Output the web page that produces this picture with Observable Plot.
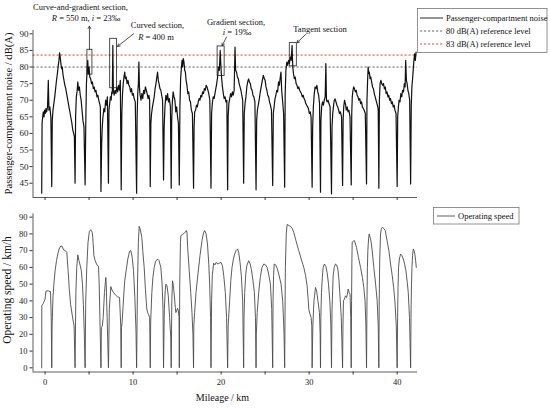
<!DOCTYPE html>
<html><head><meta charset="utf-8">
<script src="https://cdn.jsdelivr.net/npm/d3@7"></script>
<script src="https://cdn.jsdelivr.net/npm/@observablehq/plot@0.6"></script>
<style>
body{margin:0;background:#fff;}
#wrap{position:relative;width:550px;height:408px;overflow:hidden;font-family:"Liberation Serif","Times New Roman",serif;}
#topc{position:absolute;left:0;top:0;}
#botc{position:absolute;left:0;top:205px;}
#overlay{position:absolute;left:0;top:0;pointer-events:none;}
svg{display:block;}
</style>
</head><body>
<div id="wrap">
  <div id="topc"></div>
  <div id="botc"></div>
  <svg id="overlay" width="550" height="408" font-family="Liberation Serif, Times New Roman, serif" fill="#111"></svg>
</div>
<script>
// ---------- data ----------
const kmTicks = [0,5,10,15,20,25,30,35,40];
const noiseTicks = [45,50,55,60,65,70,75,80,85,90];
const speedTicks = [0,10,20,30,40,50,60,70,80,90];
const refGrey = 80;     // drawn level, dB(A)
const refRed = 83.6;    // drawn level, dB(A)
const legendTop = ["Passenger-compartment noise","80 dB(A) reference level","83 dB(A) reference level"];
const legendBottom = ["Operating speed"];

// passenger-compartment noise [km, dB(A)]
const noise = [
[-0.38,42],[-0.34,63],[-0.27,65],[-0.2,66.5],[-0.12,65],[-0.05,67],[0.03,66],[0.1,67.5],[0.18,66.5],[0.28,68],[0.37,76],[0.44,67],[0.54,68],[0.66,65],[0.76,44],
[0.82,64],[0.9,67],[1.0,69],[1.1,71],[1.2,73.5],[1.3,76],[1.4,78],[1.5,80.5],[1.58,82],[1.65,84.3],[1.72,83],[1.8,81],[1.88,79.5],[1.95,80],[2.05,77.5],[2.15,76],[2.25,74.5],[2.35,73.5],[2.45,72],[2.55,70.5],[2.65,69],[2.75,67.5],[2.85,66],[2.95,64.5],[3.05,63],[3.15,61],[3.25,60],[3.33,59],[3.41,45],
[3.47,65],[3.55,71],[3.63,72.5],[3.72,75.5],[3.8,73],[3.9,74],[4.0,71.5],[4.1,70],[4.2,67],[4.3,64],[4.42,62],[4.55,44.5],
[4.62,62],[4.7,75],[4.78,79],[4.85,82],[4.92,78],[5.0,80],[5.08,77],[5.18,76.5],[5.28,75],[5.38,75.5],[5.48,73.5],[5.58,74],[5.68,72.5],[5.78,73],[5.9,71],[6.0,71.5],[6.1,70],[6.2,69],[6.28,68],[6.35,42.5],
[6.43,57],[6.5,62],[6.58,65],[6.68,67.5],[6.78,66.5],[6.88,70],[6.98,68.5],[7.08,71],[7.2,45],
[7.26,67],[7.34,69],[7.42,71],[7.5,70],[7.58,72.5],[7.64,72],[7.7,86.5],[7.76,73],[7.85,71.5],[7.95,73],[8.05,72],[8.15,74],[8.25,72.5],[8.35,74.5],[8.45,73],[8.55,76],[8.65,43],
[8.72,66],[8.8,72],[8.88,75],[8.96,77],[9.05,78.5],[9.12,76.5],[9.22,77],[9.32,75],[9.42,76],[9.52,74.5],[9.62,74],[9.72,72.5],[9.82,73.5],[9.92,71.5],[10.02,72],[10.12,70.5],[10.25,69.5],[10.4,42],
[10.46,65],[10.53,72],[10.6,75],[10.66,81.5],[10.72,74],[10.8,71.5],[10.9,70],[11.0,72],[11.1,70.5],[11.2,73],[11.3,72],[11.4,74],[11.5,73],[11.6,72],[11.7,70.5],[11.8,71.5],[11.88,70],[11.95,44],
[12.02,63],[12.1,66],[12.2,68],[12.3,69.5],[12.4,71],[12.5,73.5],[12.6,75],[12.7,77],[12.78,78.5],[12.86,76],[12.95,75],[13.05,73.5],[13.15,73],[13.25,71.5],[13.35,70],[13.46,46],
[13.53,62],[13.62,68],[13.72,71.5],[13.82,70],[13.92,72],[14.02,69.5],[14.12,70.5],[14.24,68],[14.33,43.5],
[14.39,64],[14.46,69.5],[14.55,72.5],[14.65,71],[14.75,70],[14.85,66.5],[14.95,68],[15.05,65],[15.15,63],[15.25,44.5],
[15.32,68],[15.4,76.5],[15.48,79.5],[15.56,82],[15.62,80],[15.7,82.5],[15.78,81.5],[15.86,79],[15.94,78.5],[16.02,76],[16.12,74.5],[16.22,72],[16.32,72.5],[16.42,70],[16.52,69.5],[16.62,67],[16.74,66],[16.87,43.5],
[16.93,62],[17.0,66.5],[17.1,67],[17.2,68.5],[17.3,68],[17.4,69.5],[17.5,70.5],[17.6,70],[17.7,71.5],[17.8,71],[17.9,72.5],[18.0,72],[18.1,73.5],[18.2,73],[18.3,74.5],[18.4,74],[18.5,73],[18.6,72],[18.72,70],[18.85,43.5],
[18.92,66],[19.0,69],[19.1,71],[19.2,70.5],[19.3,72],[19.4,73.5],[19.5,75],[19.6,77],[19.7,80],[19.8,79],[19.9,85],[19.98,80],[20.05,77],[20.15,74],[20.25,72],[20.35,70.5],[20.45,71],[20.55,69.5],[20.65,70],[20.74,43],
[20.8,65],[20.88,69],[20.98,70.5],[21.08,72],[21.18,71],[21.28,72.5],[21.38,71.5],[21.48,73],[21.58,86],[21.65,79],[21.75,78.5],[21.85,77],[21.95,76.5],[22.05,75],[22.15,74],[22.25,73],[22.35,71.5],[22.45,70],[22.56,45],
[22.63,66],[22.72,69],[22.82,71],[22.92,74],[23.02,75.5],[23.12,76.4],[23.22,75.5],[23.32,75],[23.42,73.5],[23.52,73],[23.62,71.5],[23.72,71],[23.84,69.5],[23.97,43],
[24.04,64],[24.12,67],[24.22,68.5],[24.32,70],[24.42,72],[24.52,73.5],[24.62,75],[24.72,76.5],[24.8,77.5],[24.9,76.5],[25.0,76],[25.1,74],[25.2,73],[25.3,71.5],[25.4,71],[25.5,69.5],[25.6,68.5],[25.72,67],[25.86,44.3],
[25.93,66],[26.02,68],[26.12,70.5],[26.22,71.5],[26.32,73],[26.42,72.5],[26.52,75.5],[26.62,74.5],[26.72,77],[26.8,78.5],[26.88,73],[26.98,70],[27.1,66],[27.22,43.8],
[27.28,72],[27.36,79],[27.46,81.5],[27.56,80.5],[27.66,82],[27.76,81],[27.86,83],[27.96,82],[28.06,86.5],[28.14,80],[28.22,78],[28.32,76.5],[28.42,77],[28.52,75],[28.62,74.5],[28.72,73.5],[28.82,74],[28.92,73],[29.02,72.5],[29.12,72],[29.22,71],[29.32,71.5],[29.42,70.5],[29.52,70],[29.62,69],[29.72,68.5],[29.82,68],[29.92,67.5],[30.02,66],[30.12,66.5],[30.22,65],[30.34,43.8],
[30.4,62],[30.48,68],[30.58,72],[30.68,74],[30.78,73.5],[30.88,74.5],[30.98,72.5],[31.08,71.5],[31.18,69],[31.29,42.3],
[31.34,64],[31.42,68],[31.52,69.5],[31.62,68.5],[31.72,70],[31.82,71],[31.9,81],[31.97,70],[32.05,69.5],[32.15,70],[32.25,69],[32.38,68],[32.54,41.8],
[32.6,62],[32.68,66],[32.76,68],[32.85,70],[32.95,70.4],[33.05,69.5],[33.15,68.5],[33.25,68],[33.35,67],[33.45,66],[33.55,66.5],[33.68,65],[33.8,44.3],
[33.86,64],[33.93,68],[34.02,70],[34.12,69],[34.22,67],[34.32,68],[34.42,66.5],[34.52,67],[34.64,65],[34.78,44.5],
[34.84,66],[34.9,71],[34.98,73],[35.06,74],[35.15,73.5],[35.25,72.5],[35.35,73],[35.45,71.5],[35.55,71],[35.65,70],[35.75,70.5],[35.85,69],[35.95,69.5],[36.05,68],[36.15,67.5],[36.25,67],[36.38,66],[36.52,44.8],
[36.57,70],[36.63,75],[36.7,80],[36.77,78],[36.84,78.5],[36.92,76.5],[37.0,77],[37.1,75.5],[37.2,74],[37.3,73.5],[37.4,72],[37.5,71],[37.6,70],[37.7,69],[37.8,68],[37.85,67],[37.92,43.5],
[37.98,70],[38.06,75],[38.15,76],[38.25,75],[38.35,74.5],[38.45,75],[38.55,73.4],[38.65,74],[38.75,72],[38.85,72.5],[38.95,71],[39.05,71.5],[39.15,70],[39.25,70.5],[39.35,69],[39.45,69.5],[39.55,68],[39.65,68.5],[39.75,67],[39.87,66],[40.0,44],
[40.06,65],[40.14,68],[40.22,70],[40.32,69.5],[40.42,72],[40.52,71],[40.62,73],[40.72,72.5],[40.82,75],[40.9,74],[40.97,82],[41.05,76],[41.13,75],[41.22,73],[41.32,72],[41.42,70],[41.53,44.8],
[41.6,68],[41.67,74],[41.74,76],[41.82,79],[41.9,82],[41.98,84],[42.06,82],[42.15,84.5]
];

// operating speed [km, km/h]
const speed = [
[-0.38,0],[-0.37,37],[-0.2,38.5],[0.0,41],[0.1,45.8],[0.35,46],[0.62,45.5],[0.7,30],[0.76,0],
[0.8,25],[0.9,42],[1.0,50],[1.14,58],[1.3,64],[1.45,68],[1.6,71],[1.8,72.8],[1.95,72.5],[2.1,70.5],[2.3,70],[2.47,69],[2.62,58],[2.75,47],[2.9,38],[3.1,31],[3.3,25],[3.41,0],
[3.5,45],[3.6,60],[3.72,67.5],[3.85,64],[4.0,61],[4.12,58],[4.25,50],[4.35,38],[4.45,22],[4.55,0],
[4.62,40],[4.74,60],[4.88,75],[5.04,81.6],[5.2,82.5],[5.35,81],[5.42,78],[5.55,67],[5.69,64],[5.85,62],[6.07,60.5],[6.15,50],[6.25,25],[6.35,0],
[6.4,24],[6.5,25],[6.6,30],[6.75,45],[6.9,54],[6.95,50],[7.05,30],[7.2,0],
[7.3,35],[7.47,48.5],[7.6,46.5],[7.77,45],[8.0,43.5],[8.23,42.5],[8.46,42],[8.6,25],[8.65,0],
[8.68,24],[8.75,27],[8.9,40],[9.05,52],[9.21,58],[9.4,65],[9.6,69.5],[9.75,70],[9.9,66],[10.05,58],[10.2,42],[10.33,22],[10.4,0],
[10.5,50],[10.6,75],[10.69,84.5],[10.8,83],[10.99,78],[11.1,70],[11.26,60],[11.4,47],[11.56,35],[11.65,33],[11.75,32],[11.88,30],[11.95,0],
[12.0,28],[12.13,45],[12.25,54],[12.4,60],[12.55,63.5],[12.78,65],[12.95,64],[13.15,60],[13.3,50],[13.4,35],[13.46,0],
[13.55,35],[13.65,46],[13.73,50],[13.85,49],[14.0,43],[14.15,30],[14.28,18],[14.33,0],
[14.4,40],[14.48,52],[14.58,49],[14.67,44],[14.8,36],[14.86,33],[14.95,34],[15.05,35.5],[15.15,34],[15.22,30],[15.25,0],
[15.3,50],[15.38,75],[15.43,79],[15.6,79.5],[15.81,80.5],[15.95,81],[16.05,82],[16.12,81],[16.2,72],[16.38,58],[16.55,45],[16.69,33],[16.8,20],[16.87,0],
[16.9,25],[16.99,33],[17.15,45],[17.37,56],[17.6,67],[17.83,76],[18.0,80.5],[18.13,82],[18.3,80],[18.45,74],[18.6,62],[18.7,50],[18.8,30],[18.85,0],
[18.92,40],[19.0,55],[19.15,62.5],[19.3,61.5],[19.45,63],[19.61,62],[19.8,62.5],[19.99,63],[20.15,61],[20.3,55],[20.48,45],[20.62,30],[20.74,0],
[20.8,25],[20.97,40],[21.1,52],[21.24,60],[21.4,65],[21.54,68],[21.7,70],[21.88,71],[22.0,69],[22.15,63],[22.3,55],[22.45,40],[22.56,0],
[22.6,30],[22.68,45],[22.8,56],[22.92,61],[23.13,64],[23.3,62],[23.45,58.5],[23.62,52],[23.78,45],[23.9,30],[23.97,0],
[24.0,20],[24.1,33],[24.27,45],[24.45,54],[24.65,60],[24.85,62],[25.05,61.5],[25.22,60],[25.4,56],[25.6,50],[25.75,35],[25.86,0],
[25.9,40],[25.96,55],[26.03,62],[26.2,61.5],[26.36,59.5],[26.55,56],[26.81,50],[27.0,40],[27.15,20],[27.22,0],
[27.3,60],[27.4,80],[27.5,85.6],[27.7,85],[27.87,84.5],[28.05,83.5],[28.25,81],[28.5,76],[28.82,70],[29.1,65],[29.39,60],[29.6,55],[29.77,49],[29.9,40],[29.96,35],[30.1,32],[30.23,30],[30.3,25],[30.34,0],
[30.42,25],[30.55,40],[30.72,48],[30.85,46],[31.0,40],[31.17,33],[31.25,20],[31.29,0],
[31.33,30],[31.4,45],[31.5,54],[31.59,60],[31.74,62],[31.9,60.5],[32.04,57],[32.2,50],[32.35,40],[32.47,25],[32.54,0],
[32.6,35],[32.73,55],[32.85,60],[32.99,62],[33.12,61.5],[33.26,59],[33.38,53],[33.48,45],[33.65,30],[33.8,0],
[33.84,25],[33.9,40],[34.0,41],[34.13,43],[34.25,42],[34.35,44],[34.43,47],[34.55,45],[34.65,44],[34.72,30],[34.78,0],
[34.82,40],[34.86,65],[34.89,75],[35.0,75.5],[35.15,76],[35.38,72],[35.6,66],[35.84,60],[36.05,54],[36.21,48],[36.35,40],[36.45,25],[36.52,0],
[36.57,40],[36.62,60],[36.67,70],[36.75,77],[36.82,80],[36.92,78],[37.05,75],[37.2,68],[37.35,60],[37.55,50],[37.73,40],[37.85,25],[37.92,0],
[37.96,40],[38.02,65],[38.11,80],[38.2,83],[38.34,84],[38.5,83],[38.65,82],[38.85,76],[39.06,70],[39.25,62],[39.44,55],[39.6,48],[39.74,40],[39.9,25],[40.0,0],
[40.05,30],[40.1,48],[40.16,60],[40.25,65],[40.39,68],[40.55,67],[40.69,65],[40.85,62],[40.99,58],[41.15,51],[41.26,45],[41.4,30],[41.53,0],
[41.58,35],[41.63,50],[41.68,60],[41.75,67],[41.83,71],[41.92,70],[42.01,68],[42.1,64],[42.17,60]
];

// annotation boxes and arrows (chart coordinates: km, dB(A))
const boxes = [
  {x1:4.81, x2:5.38, y1:77.7, y2:85.2},
  {x1:7.40, x2:8.16, y1:73.6, y2:88.5},
  {x1:19.60, x2:20.40, y1:77.3, y2:86.2},
  {x1:27.80, x2:28.60, y1:80.2, y2:87.2}
];
const arrows = [
  {x1:5.04, y1:85.2, x2:5.04, y2:92.3},
  {x1:10.05, y1:90.0, x2:8.23, y2:86.2},
  {x1:20.60, y1:89.0, x2:20.12, y2:86.4},
  {x1:29.60, y1:89.8, x2:28.62, y2:87.3}
];

// ---------- charts ----------
const xDomain = [-1.37, 42.31];
const yNoise = [40.7, 91];
const ySpeed = [-2.5, 92];
const baseStyle = {fontFamily:"Liberation Serif, Times New Roman, serif", background:"white", color:"#222", overflow:"visible"};

const topChart = Plot.plot({
  width: 550, height: 205,
  marginLeft: 32.5, marginRight: 133, marginTop: 30, marginBottom: 8,
  x: {domain: xDomain},
  y: {domain: yNoise},
  style: baseStyle,
  marks: [
    Plot.ruleY([refGrey], {stroke:"#555", strokeWidth:0.9, strokeDasharray:"2.2,1.8"}),
    Plot.ruleY([refRed], {stroke:"#e8322a", strokeWidth:0.9, strokeDasharray:"2.2,1.8"}),
    Plot.line(noise, {x: d => d[0], y: d => d[1], stroke:"#111", strokeWidth:1.2}),
    Plot.rect(boxes, {x1:"x1", x2:"x2", y1:"y1", y2:"y2", fill:"none", stroke:"#222", strokeWidth:0.8}),
    Plot.arrow(arrows, {x1:"x1", y1:"y1", x2:"x2", y2:"y2", stroke:"#222", strokeWidth:0.8, headLength:5}),
    Plot.ruleX([xDomain[0]], {stroke:"#333", strokeWidth:0.8}),
    Plot.ruleY([yNoise[0]], {stroke:"#333", strokeWidth:0.8}),
    Plot.axisY({ticks: noiseTicks, tickSize: 3, tickPadding: 1.5, fontSize: 9, label: null, stroke:"#333"}),
    Plot.axisX({ticks: kmTicks, tickSize: 3, tickFormat: () => "", label: null, stroke:"#333"})
  ]
});
document.getElementById("topc").appendChild(topChart);

const botChart = Plot.plot({
  width: 550, height: 203,
  marginLeft: 32.5, marginRight: 133, marginTop: 8.3, marginBottom: 36.5,
  x: {domain: xDomain},
  y: {domain: ySpeed},
  style: baseStyle,
  marks: [
    Plot.line(speed, {x: d => d[0], y: d => d[1], stroke:"#4a4a4a", strokeWidth:0.9}),
    Plot.ruleX([xDomain[0]], {stroke:"#333", strokeWidth:0.8}),
    Plot.ruleY([ySpeed[0]], {stroke:"#333", strokeWidth:0.8}),
    Plot.axisY({ticks: speedTicks, tickSize: 3, tickPadding: 2.5, fontSize: 8.5, label: null, stroke:"#333"}),
    Plot.axisX({ticks: kmTicks, tickSize: 3, tickPadding: 4, fontSize: 8.5, label: null, stroke:"#333",
      tickFormat: d => (d % 10 === 0 ? String(d) : "")})
  ]
});
document.getElementById("botc").appendChild(botChart);

// ---------- overlay: legends, annotation text, axis titles ----------
const ov = d3.select("#overlay");
// top legend
ov.append("rect").attr("x",417.5).attr("y",8.5).attr("width",129.5).attr("height",44)
  .attr("fill","white").attr("stroke","#777").attr("stroke-width",0.8);
const legRows = [
  {y:18, stroke:"#111", dash:null},
  {y:31, stroke:"#555", dash:"2.2,1.8"},
  {y:44, stroke:"#e8322a", dash:"2.2,1.8"}
];
legRows.forEach((r,i) => {
  ov.append("line").attr("x1",420).attr("x2",443).attr("y1",r.y).attr("y2",r.y)
    .attr("stroke",r.stroke).attr("stroke-width",0.9).attr("stroke-dasharray",r.dash);
  ov.append("text").attr("x",446).attr("y",r.y).attr("dy","0.33em")
    .attr("font-size",8.5).text(legendTop[i]);
});
// bottom legend
ov.append("rect").attr("x",433.5).attr("y",207.5).attr("width",85.5).attr("height",16.5)
  .attr("fill","white").attr("stroke","#777").attr("stroke-width",0.8);
ov.append("line").attr("x1",437).attr("x2",455).attr("y1",216).attr("y2",216)
  .attr("stroke","#4a4a4a").attr("stroke-width",0.9);
ov.append("text").attr("x",458).attr("y",216).attr("dy","0.33em").attr("font-size",8.5).text(legendBottom[0]);

// annotation text
function ann(x, y, parts) {
  const t = ov.append("text").attr("x",x).attr("y",y).attr("dy","0.33em")
    .attr("text-anchor","middle").attr("font-size",8.5);
  parts.forEach(p => {
    const s = t.append("tspan").text(p[0]);
    if (p[1]) s.attr("font-style","italic");
  });
}
ann(80.5, 7.5, [["Curve-and-gradient section,"]]);
ann(86, 18, [["R",1],[" = 550 m, "],["i",1],[" = 23‰"]]);
ann(157.5, 25, [["Curved section,"]]);
ann(156, 37, [["R",1],[" = 400 m"]]);
ann(236, 22, [["Gradient section,"]]);
ann(237, 32.5, [["i",1],[" = 19‰"]]);
ann(320, 29, [["Tangent section"]]);

// axis titles
ov.append("text").attr("transform","translate(8,113.5) rotate(-90)").attr("text-anchor","middle")
  .attr("dy","0.33em").attr("font-size",10.6).text("Passenger-compartment noise / dB(A)");
ov.append("text").attr("transform","translate(7,290) rotate(-90)").attr("text-anchor","middle")
  .attr("dy","0.33em").attr("font-size",11.5).text("Operating speed / km/h");
ov.append("text").attr("x",222.5).attr("y",398).attr("dy","0.33em").attr("text-anchor","middle")
  .attr("font-size",10).text("Mileage / km");
</script>
</body></html>
